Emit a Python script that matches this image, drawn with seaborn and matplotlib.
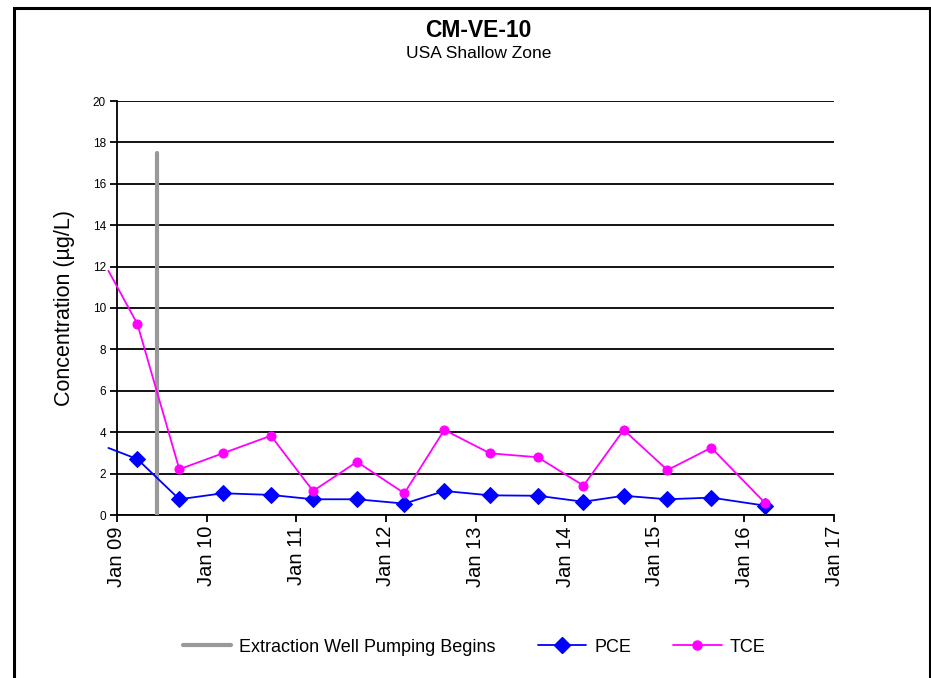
import matplotlib
matplotlib.use("Agg")
import matplotlib.pyplot as plt
import matplotlib.dates as mdates
from matplotlib.lines import Line2D
from matplotlib.patches import Rectangle
import seaborn as sns
import pandas as pd

# ---- data ----
sample_dates = ["2008-11-27", "2009-03-25", "2009-09-12", "2010-03-08", "2010-09-20",
                "2011-03-11", "2011-09-06", "2012-03-17", "2012-08-27", "2013-03-01",
                "2013-09-12", "2014-03-17", "2014-08-28", "2015-02-22", "2015-08-20",
                "2016-03-27"]
pce = [3.24, 2.70, 0.76, 1.05, 0.97, 0.76, 0.76, 0.55, 1.16, 0.95, 0.93, 0.64, 0.93,
       0.76, 0.84, 0.45]
tce = [11.8, 9.23, 2.21, 2.98, 3.83, 1.16, 2.57, 1.05, 4.11, 2.98, 2.79, 1.42, 4.11,
       2.17, 3.25, 0.57]
pumping_dates = ["2009-06-15", "2009-06-15"]
pumping_values = [0.0, 17.5]

title = "CM-VE-10"
subtitle = "USA Shallow Zone"
ylabel = "Concentration (µg/L)"
legend_labels = ["Extraction Well Pumping Begins", "PCE", "TCE"]
y_ticks = list(range(0, 21, 2))
x_tick_years = list(range(2009, 2018))

# ---- frames ----
df_pce = pd.DataFrame({"date": pd.to_datetime(sample_dates), "value": pce})
df_tce = pd.DataFrame({"date": pd.to_datetime(sample_dates), "value": tce})
df_pump = pd.DataFrame({"date": pd.to_datetime(pumping_dates), "value": pumping_values})

sns.set_theme(style="white")
plt.rcParams["font.family"] = ["Liberation Sans", "DejaVu Sans"]
plt.rcParams["text.color"] = "black"
plt.rcParams["axes.labelcolor"] = "black"
plt.rcParams["xtick.color"] = "black"
plt.rcParams["ytick.color"] = "black"

fig = plt.figure(figsize=(9.31, 6.78), dpi=100)
ax = fig.add_axes([117 / 931, 1 - 515 / 678, (834 - 117) / 931, (515 - 101) / 678])

# gridlines
ax.set_axisbelow(True)
ax.yaxis.grid(True, color="black", linewidth=1.3)
ax.xaxis.grid(False)

sns.lineplot(data=df_pump, x="date", y="value", ax=ax, color="#999999",
             linewidth=3.0, estimator=None, sort=False, legend=False, zorder=3)
# first sample lies just before the axis start: its segment runs a little past the
# axis (as in the reference) but its marker is not drawn
sns.lineplot(data=df_pce, x="date", y="value", ax=ax, color="#0000FF",
             linewidth=1.3, marker="D", markersize=8.5, markeredgecolor="#0000FF",
             markevery=slice(1, None), clip_on=False,
             estimator=None, legend=False, zorder=4)
sns.lineplot(data=df_tce, x="date", y="value", ax=ax, color="#FF00FF",
             linewidth=1.3, marker="o", markersize=6.5, markeredgecolor="#FF00FF",
             markevery=slice(1, None), clip_on=False,
             estimator=None, legend=False, zorder=5)

ax.set_xlim(pd.Timestamp("2009-01-01"), pd.Timestamp("2017-01-01"))
ax.set_ylim(0, 20)
ax.set_yticks(y_ticks)
ax.set_yticklabels([str(v) for v in y_ticks], fontsize=8.5)
ax.set_xticks([pd.Timestamp(f"{y}-01-01") for y in x_tick_years])
ax.xaxis.set_major_formatter(mdates.DateFormatter("Jan %y"))
for lbl in ax.get_xticklabels():
    lbl.set_rotation(90)
    lbl.set_fontsize(14.5)
ax.tick_params(axis="both", direction="out", length=5, width=1.3, color="black",
               bottom=True, left=True, pad=3)
ax.set_xlabel("")
ax.set_ylabel(ylabel, fontsize=15.5, labelpad=13)

for side in ["top", "right"]:
    ax.spines[side].set_visible(False)
for side in ["left", "bottom"]:
    ax.spines[side].set_color("black")
    ax.spines[side].set_linewidth(1.3)

# title
fig.text(478 / 931, 1 - 37 / 678, title, ha="center", va="baseline",
         fontsize=16.5, fontweight="bold")
fig.text(479 / 931, 1 - 57.5 / 678, subtitle, ha="center", va="baseline", fontsize=12.5)

# legend
handles = [
    Line2D([], [], color="#999999", linewidth=3.0),
    Line2D([], [], color="#0000FF", linewidth=1.3, marker="D", markersize=8.5),
    Line2D([], [], color="#FF00FF", linewidth=1.3, marker="o", markersize=6.5),
]
fig.legend(handles, legend_labels, loc="center", bbox_to_anchor=(474 / 931, 1 - 647 / 678),
           ncol=3, frameon=False, fontsize=13, handlelength=2.7, handletextpad=0.45,
           columnspacing=2.3)

# outer border
fig.patches.append(Rectangle((13.5 / 931, -0.02), (930 - 13.5) / 931, 1.02 - 7.5 / 678,
                             transform=fig.transFigure, fill=False, edgecolor="black",
                             linewidth=2.2))

fig.savefig("out.png", dpi=100)
